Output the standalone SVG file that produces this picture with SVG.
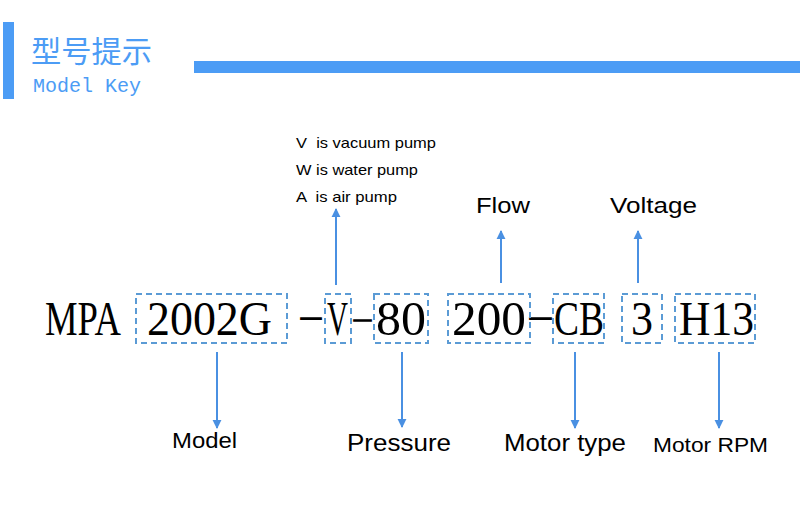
<svg xmlns="http://www.w3.org/2000/svg" width="800" height="512" viewBox="0 0 800 512">
<style>
.hdr{fill:#4c9cf5}
.cn{font-family:"Noto Sans CJK SC","Noto Sans",sans-serif;font-size:30px;fill:#4c9cf5}
.en{font-family:"Liberation Mono",monospace;font-size:20px;fill:#4c9cf5}
.code{font-family:"Liberation Serif",serif;font-size:48px;fill:#000}
.dash{font-family:"Liberation Serif",serif;fill:#000;stroke:#000;stroke-width:1.6}
.box{fill:none;stroke:#5b9bd5;stroke-width:2;stroke-dasharray:6 4}
.lbl{font-family:"Liberation Sans",Arial,sans-serif;fill:#000;white-space:pre}
.arr{stroke:#4a90e2;stroke-width:2;fill:none}
</style>
<defs>
<marker id="ah" viewBox="0 0 10 10" refX="9" refY="5" markerWidth="4.5" markerHeight="5" orient="auto" markerUnits="strokeWidth">
<path d="M0,0 L10,5 L0,10 z" fill="#4a90e2"/>
</marker>
</defs>
<rect width="800" height="512" fill="#fff"/>
<g id="header">
<rect class="hdr" x="3" y="22" width="11" height="77"/>
<rect class="hdr" x="194" y="61" width="606" height="12"/>
<text class="cn" x="31" y="62" textLength="121" lengthAdjust="spacingAndGlyphs">型号提示</text>
<text class="en" x="33" y="92">Model Key</text>
</g>
<g id="code">
<text class="code" x="45" y="335" textLength="76" lengthAdjust="spacingAndGlyphs">MPA</text>
<text class="dash" x="301" y="324" font-size="20">—</text>
<text class="dash" x="354" y="324" font-size="17">—</text>
<text class="dash" x="530" y="324" font-size="21">—</text>
</g>
<g id="model">
<rect class="box" x="136" y="294" width="151" height="49"/>
<text class="code" x="147" y="335" textLength="125" lengthAdjust="spacingAndGlyphs">2002G</text>
</g>
<g id="type">
<rect class="box" x="325" y="294" width="26" height="49"/>
<text class="code" x="327" y="335" textLength="21" lengthAdjust="spacingAndGlyphs">V</text>
</g>
<g id="pressure">
<rect class="box" x="374" y="294" width="54" height="49"/>
<text class="code" x="376" y="335" textLength="50" lengthAdjust="spacingAndGlyphs">80</text>
</g>
<g id="flow">
<rect class="box" x="448" y="294" width="82" height="49"/>
<text class="code" x="452" y="335" textLength="74" lengthAdjust="spacingAndGlyphs">200</text>
</g>
<g id="motortype">
<rect class="box" x="553" y="294" width="51" height="49"/>
<text class="code" x="554" y="335" textLength="50" lengthAdjust="spacingAndGlyphs">CB</text>
</g>
<g id="voltage">
<rect class="box" x="622" y="294" width="40" height="49"/>
<text class="code" x="631" y="335" textLength="22" lengthAdjust="spacingAndGlyphs">3</text>
</g>
<g id="rpm">
<rect class="box" x="675" y="294" width="80" height="49"/>
<text class="code" x="679" y="335" textLength="75" lengthAdjust="spacingAndGlyphs">H13</text>
</g>
<g id="connectors">
<line class="arr" x1="336" y1="285" x2="336" y2="209" marker-end="url(#ah)"/>
<line class="arr" x1="501" y1="283" x2="501" y2="231" marker-end="url(#ah)"/>
<line class="arr" x1="638" y1="283" x2="638" y2="231" marker-end="url(#ah)"/>
<line class="arr" x1="217" y1="352" x2="217" y2="428" marker-end="url(#ah)"/>
<line class="arr" x1="402" y1="352" x2="402" y2="427" marker-end="url(#ah)"/>
<line class="arr" x1="575" y1="352" x2="575" y2="428" marker-end="url(#ah)"/>
<line class="arr" x1="719" y1="352" x2="719" y2="428" marker-end="url(#ah)"/>
</g>
<g id="labels">
<text class="lbl" xml:space="preserve" x="296" y="147.5" font-size="14.5" textLength="140" lengthAdjust="spacingAndGlyphs">V  is vacuum pump</text>
<text class="lbl" x="296" y="174.5" font-size="14.5" textLength="122" lengthAdjust="spacingAndGlyphs">W is water pump</text>
<text class="lbl" xml:space="preserve" x="296" y="201.5" font-size="14.5" textLength="101" lengthAdjust="spacingAndGlyphs">A  is air pump</text>
<text class="lbl" x="476" y="213" font-size="22" textLength="54" lengthAdjust="spacingAndGlyphs">Flow</text>
<text class="lbl" x="610" y="213" font-size="22" textLength="87" lengthAdjust="spacingAndGlyphs">Voltage</text>
<text class="lbl" x="172" y="448" font-size="22" textLength="65" lengthAdjust="spacingAndGlyphs">Model</text>
<text class="lbl" x="347" y="451" font-size="23.5" textLength="104" lengthAdjust="spacingAndGlyphs">Pressure</text>
<text class="lbl" x="504" y="451" font-size="23.5" textLength="122" lengthAdjust="spacingAndGlyphs">Motor type</text>
<text class="lbl" x="653" y="452" font-size="21" textLength="115" lengthAdjust="spacingAndGlyphs">Motor RPM</text>
</g>
</svg>
